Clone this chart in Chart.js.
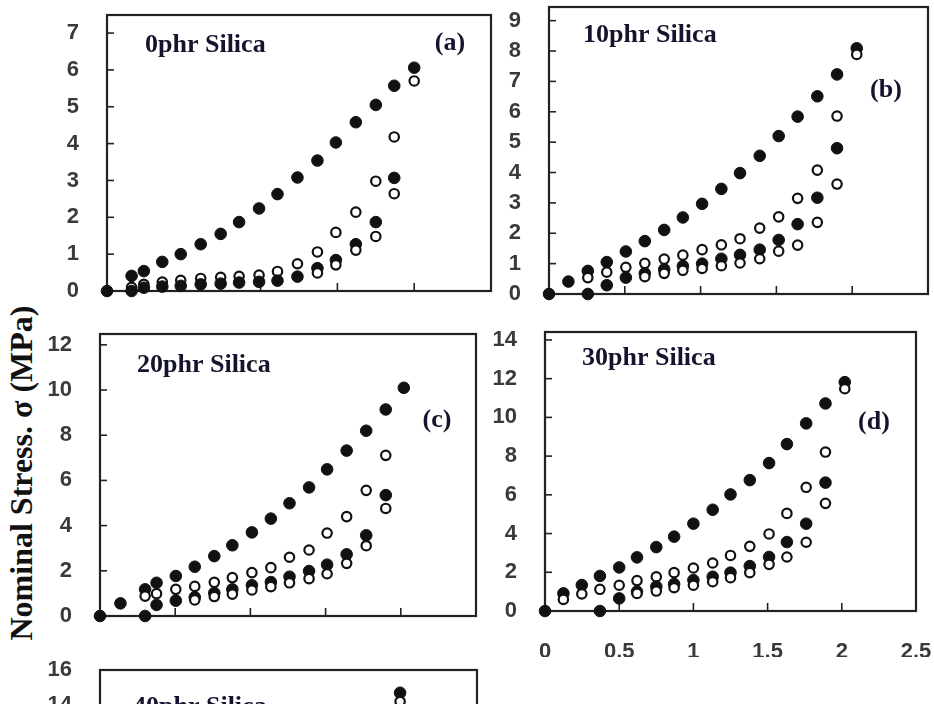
<!DOCTYPE html>
<html>
<head>
<meta charset="utf-8">
<script src="https://cdn.jsdelivr.net/npm/chart.js@4.4.1/dist/chart.umd.min.js"></script>
<style>
  html, body { margin: 0; padding: 0; background: #fff; }
  body { width: 934px; height: 704px; overflow: hidden; position: relative; }
  canvas { position: absolute; }
  #ytitle {
    position: absolute; left: -177px; top: 453px; width: 400px; height: 40px;
    line-height: 40px; text-align: center; white-space: nowrap;
    font: bold 32px "Liberation Serif", "Times New Roman", serif; color: #111;
    transform: rotate(-90deg); transform-origin: center;
  }
</style>
</head>
<body>
<div id="ytitle">Nominal Stress. σ (MPa)</div>
<canvas id="chartA"></canvas>
<canvas id="chartB"></canvas>
<canvas id="chartC"></canvas>
<canvas id="chartD"></canvas>
<canvas id="chartE"></canvas>
<script>
// strain values (x) for each compound, stress (MPa) per run, null = no point
var strainA = [0, 0.16, 0.24, 0.36, 0.48, 0.61, 0.74, 0.86, 0.99, 1.11, 1.24, 1.37, 1.49, 1.62, 1.75, 1.87, 2.0];
var aFilled1 = [0, 0.41, 0.54, 0.79, 1.0, 1.27, 1.55, 1.87, 2.24, 2.63, 3.08, 3.54, 4.03, 4.58, 5.05, 5.57, 6.06];
var aOpen1   = [null, 0.10, 0.18, 0.24, 0.29, 0.34, 0.37, 0.40, 0.43, 0.53, 0.74, 1.06, 1.59, 2.14, 2.98, 4.18, 5.70];
var aFilled2 = [null, 0, 0.09, 0.12, 0.14, 0.18, 0.20, 0.23, 0.25, 0.28, 0.39, 0.62, 0.84, 1.27, 1.87, 3.07, null];
var aOpen2   = [null, null, null, null, null, null, null, null, null, null, null, 0.49, 0.71, 1.11, 1.48, 2.64, null];

var strainB = [0, 0.128, 0.256, 0.381, 0.507, 0.632, 0.76, 0.883, 1.01, 1.137, 1.26, 1.39, 1.515, 1.64, 1.77, 1.90, 2.03];
var bFilled1 = [0, 0.41, 0.76, 1.05, 1.40, 1.74, 2.11, 2.52, 2.97, 3.46, 3.98, 4.55, 5.20, 5.84, 6.51, 7.23, 8.09];
var bOpen1   = [null, null, 0.54, 0.72, 0.88, 1.01, 1.15, 1.28, 1.46, 1.62, 1.82, 2.17, 2.54, 3.15, 4.08, 5.86, 7.89];
var bFilled2 = [null, null, 0, 0.29, 0.54, 0.68, 0.81, 0.92, 1.0, 1.16, 1.29, 1.46, 1.78, 2.30, 3.17, 4.80, null];
var bOpen2   = [null, null, null, null, null, 0.57, 0.68, 0.78, 0.84, 0.93, 1.02, 1.16, 1.41, 1.61, 2.36, 3.62, null];

var strainC = [0, 0.136, 0.30, 0.376, 0.504, 0.63, 0.76, 0.88, 1.01, 1.136, 1.26, 1.39, 1.51, 1.64, 1.77, 1.90, 2.02];
var cFilled1 = [0, 0.56, 1.18, 1.47, 1.77, 2.18, 2.65, 3.13, 3.70, 4.31, 4.99, 5.69, 6.49, 7.32, 8.20, 9.14, 10.10];
var cOpen1   = [null, null, 0.88, 0.99, 1.18, 1.31, 1.49, 1.70, 1.92, 2.14, 2.60, 2.92, 3.67, 4.40, 5.56, 7.11, null];
var cFilled2 = [null, null, 0, 0.49, 0.68, 0.83, 1.02, 1.18, 1.36, 1.50, 1.74, 1.99, 2.27, 2.73, 3.57, 5.35, null];
var cOpen2   = [null, null, null, null, null, 0.71, 0.86, 0.97, 1.15, 1.30, 1.47, 1.65, 1.87, 2.33, 3.11, 4.76, null];

var strainD = [0, 0.124, 0.248, 0.37, 0.50, 0.62, 0.75, 0.87, 1.00, 1.13, 1.25, 1.38, 1.51, 1.63, 1.76, 1.89, 2.02];
var dFilled1 = [0, 0.91, 1.34, 1.81, 2.25, 2.77, 3.30, 3.84, 4.51, 5.23, 6.02, 6.76, 7.64, 8.62, 9.69, 10.72, 11.82];
var dOpen1   = [null, 0.60, 0.88, 1.12, 1.33, 1.57, 1.77, 1.98, 2.22, 2.48, 2.87, 3.34, 3.98, 5.04, 6.39, 8.21, 11.48];
var dFilled2 = [null, null, null, 0, 0.65, 1.0, 1.26, 1.39, 1.60, 1.77, 1.98, 2.32, 2.79, 3.56, 4.51, 6.63, null];
var dOpen2   = [null, null, null, null, null, 0.91, 1.03, 1.20, 1.33, 1.51, 1.72, 1.98, 2.41, 2.79, 3.55, 5.56, null];

var strainE = [1.99];
var eFilled1 = [14.7];
var eOpen1   = [14.2];

// tick values
var strainTicks = [0, 0.5, 1, 1.5, 2, 2.5];
var yTicksA = [0, 1, 2, 3, 4, 5, 6, 7];
var yTicksB = [0, 1, 2, 3, 4, 5, 6, 7, 8, 9];
var yTicksC = [0, 2, 4, 6, 8, 10, 12];
var yTicksD = [0, 2, 4, 6, 8, 10, 12, 14];
var yTicksE = [0, 2, 4, 6, 8, 10, 12, 14, 16];

var INK = '#111';
var tickFont = { family: '"Liberation Sans", Arial, sans-serif', size: 22, weight: 'bold' };
var tickColor = '#3a3a3a';

// box frame, inward tick marks and panel captions
var panelDecor = {
  id: 'panelDecor',
  beforeDatasetsDraw: function(chart, args, opts) {
    var ctx = chart.ctx, a = chart.chartArea;
    var xs = chart.scales.x, ys = chart.scales.y;
    ctx.save();
    ctx.strokeStyle = '#222';
    ctx.lineWidth = 1.6;
    ys.ticks.forEach(function(t) {
      var py = ys.getPixelForValue(t.value);
      ctx.beginPath(); ctx.moveTo(a.left, py); ctx.lineTo(a.left + 7, py); ctx.stroke();
    });
    xs.ticks.forEach(function(t) {
      if (t.value <= 0 || t.value >= 2.5) return;
      var px = xs.getPixelForValue(t.value);
      ctx.beginPath(); ctx.moveTo(px, a.bottom); ctx.lineTo(px, a.bottom - 8); ctx.stroke();
    });
    ctx.lineWidth = 2.2;
    ctx.strokeRect(a.left, a.top, a.right - a.left, a.bottom - a.top);

    ctx.fillStyle = '#14142e';
    ctx.font = 'bold 26px "Liberation Serif", "Times New Roman", serif';
    ctx.textBaseline = 'middle';
    ctx.textAlign = 'left';
    ctx.fillText(opts.title, a.left + opts.titleAt[0], a.top + opts.titleAt[1]);
    if (opts.tag) {
      ctx.textAlign = 'center';
      ctx.fillText(opts.tag, a.left + opts.tagAt[0], a.top + opts.tagAt[1]);
    }
    ctx.restore();
  }
};

function points(strain, stress) {
  var out = [];
  for (var i = 0; i < strain.length; i++) {
    if (stress[i] !== null) out.push({ x: strain[i], y: stress[i] });
  }
  return out;
}

function filledSet(strain, stress) {
  return { data: points(strain, stress), pointRadius: 5.8, pointBackgroundColor: INK,
           pointBorderColor: INK, pointBorderWidth: 1, clip: false };
}

function openSet(strain, stress) {
  return { data: points(strain, stress), pointRadius: 4.7, pointBackgroundColor: '#fff',
           pointBorderColor: INK, pointBorderWidth: 2.2, clip: false };
}

function makePanel(id, frame, datasets, yMax, yTicks, showX, caption) {
  var axisW = 60, axisH = showX ? 46 : 12, padT = 14, padR = showX ? 30 : 12;
  var canvas = document.getElementById(id);
  canvas.width = frame.r - frame.l + axisW + padR;
  canvas.height = frame.b - frame.t + padT + axisH;
  canvas.style.left = (frame.l - axisW) + 'px';
  canvas.style.top = (frame.t - padT) + 'px';

  return new Chart(canvas, {
    type: 'scatter',
    data: { datasets: datasets },
    plugins: [panelDecor],
    options: {
      responsive: false,
      animation: false,
      layout: { autoPadding: false, padding: { top: padT, right: padR, left: 0, bottom: 0 } },
      plugins: { legend: { display: false }, tooltip: { enabled: false }, panelDecor: caption },
      scales: {
        x: {
          type: 'linear', min: 0, max: 2.5,
          afterBuildTicks: function(s) { s.ticks = strainTicks.map(function(v) { return { value: v }; }); },
          afterFit: function(s) { s.height = axisH; s.paddingLeft = 0; s.paddingRight = 0; },
          grid: { display: false }, border: { display: false },
          ticks: { display: showX, font: tickFont, color: tickColor, padding: 20, maxRotation: 0, autoSkip: false,
                   callback: function(v) { return String(v); } }
        },
        y: {
          type: 'linear', min: 0, max: yMax,
          afterBuildTicks: function(s) { s.ticks = yTicks.map(function(v) { return { value: v }; }); },
          afterFit: function(s) { s.width = axisW; s.paddingTop = 0; s.paddingBottom = 0; },
          grid: { display: false }, border: { display: false },
          ticks: { font: tickFont, color: tickColor, padding: 20, autoSkip: false,
                   callback: function(v) { return String(v); } }
        }
      }
    }
  });
}

makePanel('chartA', { l: 107, t: 15, r: 491, b: 291 },
  [openSet(strainA, aOpen2), filledSet(strainA, aFilled2), openSet(strainA, aOpen1), filledSet(strainA, aFilled1)],
  7.49, yTicksA, false,
  { title: '0phr Silica', titleAt: [38, 30], tag: '(a)', tagAt: [343, 28] });

makePanel('chartB', { l: 549, t: 7, r: 928, b: 294 },
  [openSet(strainB, bOpen2), filledSet(strainB, bFilled2), openSet(strainB, bOpen1), filledSet(strainB, bFilled1)],
  9.45, yTicksB, false,
  { title: '10phr Silica', titleAt: [34, 28], tag: '(b)', tagAt: [337, 83] });

makePanel('chartC', { l: 100, t: 334, r: 476, b: 616 },
  [openSet(strainC, cOpen2), filledSet(strainC, cFilled2), openSet(strainC, cOpen1), filledSet(strainC, cFilled1)],
  12.48, yTicksC, false,
  { title: '20phr Silica', titleAt: [37, 31], tag: '(c)', tagAt: [337, 86] });

makePanel('chartD', { l: 545, t: 332, r: 916, b: 611 },
  [openSet(strainD, dOpen2), filledSet(strainD, dFilled2), openSet(strainD, dOpen1), filledSet(strainD, dFilled1)],
  14.41, yTicksD, true,
  { title: '30phr Silica', titleAt: [37, 26], tag: '(d)', tagAt: [329, 90] });

makePanel('chartE', { l: 100, t: 670, r: 477, b: 950 },
  [openSet(strainE, eOpen1), filledSet(strainE, eFilled1)],
  16, yTicksE, false,
  { title: '40phr Silica', titleAt: [33, 37] });
</script>
</body>
</html>
